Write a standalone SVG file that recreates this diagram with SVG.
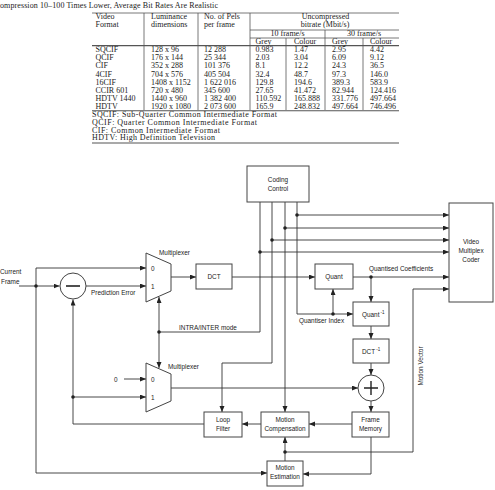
<svg xmlns="http://www.w3.org/2000/svg" width="495" height="490" viewBox="0 0 495 490">
<defs>
<style>
.t{font-family:"Liberation Serif","Times New Roman",serif;font-size:8px;fill:#222}
.s{font-family:"Liberation Sans",Arial,sans-serif;font-size:6.4px;fill:#222}
.c{text-anchor:middle}
.tl{stroke:#555;stroke-width:0.8;fill:none}
.tk{stroke:#555;stroke-width:1.1;fill:none}
.ln{fill:none;stroke:#333;stroke-width:0.9}
.ar{fill:none;stroke:#333;stroke-width:0.9;marker-end:url(#ah)}
.bx{fill:#fff;stroke:#444;stroke-width:1}
.dot{fill:#222}
</style>
<marker id="ah" markerUnits="userSpaceOnUse" markerWidth="7" markerHeight="6" refX="6" refY="2.5" orient="auto">
<path d="M0,0 L6,2.5 L0,5 z" fill="#222"/>
</marker>
</defs>
<rect width="495" height="490" fill="#fff"/>

<g id="table">
<text class="t" x="0" y="8" textLength="218" lengthAdjust="spacing">ompression 10–100 Times Lower, Average Bit Rates Are Realistic</text>
<path class="tl" d="M92,13H399M250,30H399M250,38H399"/>
<path class="tk" d="M92,45.6H399M92,110.8H399M92,143H399"/>
<path class="tl" d="M144,13V110M198,13V110M250,13V110M325,30V110M286,38V110M363,38V110"/>
<text class="t" x="95.5" y="18.8">Video</text>
<text class="t" x="95.5" y="26.8">Format</text>
<text class="t" x="151" y="18.8">Luminance</text>
<text class="t" x="151" y="26.8">dimensions</text>
<text class="t" x="204" y="18.8">No. of Pels</text>
<text class="t" x="204" y="26.8">per frame</text>
<text class="t c" x="325.5" y="19">Uncompressed</text>
<text class="t c" x="325" y="27.3">bitrate (Mbit/s)</text>
<text class="t c" x="287.5" y="36">10 frame/s</text>
<text class="t c" x="364" y="36">30 frame/s</text>
<text class="t" x="255.5" y="44">Grey</text>
<text class="t" x="294" y="44">Colour</text>
<text class="t" x="332" y="44">Grey</text>
<text class="t" x="370" y="44">Colour</text>
<g>
<text class="t" x="95.5" y="52.3">SQCIF</text><text class="t" x="151" y="52.3">128 x 96</text><text class="t" x="204" y="52.3">12 288</text><text class="t" x="255.5" y="52.3">0.983</text><text class="t" x="294" y="52.3">1.47</text><text class="t" x="332" y="52.3">2.95</text><text class="t" x="370" y="52.3">4.42</text>
<text class="t" x="95.5" y="60.4">QCIF</text><text class="t" x="151" y="60.4">176 x 144</text><text class="t" x="204" y="60.4">25 344</text><text class="t" x="255.5" y="60.4">2.03</text><text class="t" x="294" y="60.4">3.04</text><text class="t" x="332" y="60.4">6.09</text><text class="t" x="370" y="60.4">9.12</text>
<text class="t" x="95.5" y="68.4">CIF</text><text class="t" x="151" y="68.4">352 x 288</text><text class="t" x="204" y="68.4">101 376</text><text class="t" x="255.5" y="68.4">8.1</text><text class="t" x="294" y="68.4">12.2</text><text class="t" x="332" y="68.4">24.3</text><text class="t" x="370" y="68.4">36.5</text>
<text class="t" x="95.5" y="76.5">4CIF</text><text class="t" x="151" y="76.5">704 x 576</text><text class="t" x="204" y="76.5">405 504</text><text class="t" x="255.5" y="76.5">32.4</text><text class="t" x="294" y="76.5">48.7</text><text class="t" x="332" y="76.5">97.3</text><text class="t" x="370" y="76.5">146.0</text>
<text class="t" x="95.5" y="84.5">16CIF</text><text class="t" x="151" y="84.5">1408 x 1152</text><text class="t" x="204" y="84.5">1 622 016</text><text class="t" x="255.5" y="84.5">129.8</text><text class="t" x="294" y="84.5">194.6</text><text class="t" x="332" y="84.5">389.3</text><text class="t" x="370" y="84.5">583.9</text>
<text class="t" x="95.5" y="92.6">CCIR 601</text><text class="t" x="151" y="92.6">720 x 480</text><text class="t" x="204" y="92.6">345 600</text><text class="t" x="255.5" y="92.6">27.65</text><text class="t" x="294" y="92.6">41.472</text><text class="t" x="332" y="92.6">82.944</text><text class="t" x="370" y="92.6">124.416</text>
<text class="t" x="95.5" y="100.6">HDTV 1440</text><text class="t" x="151" y="100.6">1440 x 960</text><text class="t" x="204" y="100.6">1 382 400</text><text class="t" x="255.5" y="100.6">110.592</text><text class="t" x="294" y="100.6">165.888</text><text class="t" x="332" y="100.6">331.776</text><text class="t" x="370" y="100.6">497.664</text>
<text class="t" x="95.5" y="108.7">HDTV</text><text class="t" x="151" y="108.7">1920 x 1080</text><text class="t" x="204" y="108.7">2 073 600</text><text class="t" x="255.5" y="108.7">165.9</text><text class="t" x="294" y="108.7">248.832</text><text class="t" x="332" y="108.7">497.664</text><text class="t" x="370" y="108.7">746.496</text>
</g>
<text class="t" x="92" y="117" textLength="185" lengthAdjust="spacing">SQCIF: Sub-Quarter Common Intermediate Format</text>
<text class="t" x="92" y="124.9" textLength="165" lengthAdjust="spacing">QCIF: Quarter Common Intermediate Format</text>
<text class="t" x="92" y="132.8" textLength="128" lengthAdjust="spacing">CIF: Common Intermediate Format</text>
<text class="t" x="92" y="140.3" textLength="123" lengthAdjust="spacing">HDTV: High Definition Television</text>
</g>

<g id="connectors">
<path class="ar" d="M19,286H59.5"/>
<path class="ar" d="M36,286V268H146"/>
<path class="ar" d="M36,286V473H267"/>
<path class="ar" d="M86,286H146"/>
<path class="ar" d="M204,424H73V299.5"/>
<path class="ar" d="M73,397H146"/>
<path class="ar" d="M124,379H146"/>
<path class="ar" d="M171,277H196"/>
<path class="ar" d="M232,277H315"/>
<path class="ar" d="M297,202V314H353"/>
<path class="ar" d="M297,215H449"/>
<path class="ar" d="M285,202V412"/>
<path class="ar" d="M285,228H449"/>
<path class="ar" d="M272,202V363H222V412"/>
<path class="ar" d="M272,240H449"/>
<path class="ln" d="M260,202V332H159"/>
<path class="ar" d="M260,252H449"/>
<path class="ar" d="M159,332V297"/>
<path class="ar" d="M159,332V368"/>
<path class="ar" d="M353,277H449"/>
<path class="ar" d="M371,277V302"/>
<path class="ar" d="M333,314V289"/>
<path class="ar" d="M371,326V339"/>
<path class="ar" d="M371,363V375"/>
<path class="ar" d="M371,401V412"/>
<path class="ar" d="M171,388H358"/>
<path class="ar" d="M352,424H309"/>
<path class="ar" d="M261,424H242"/>
<path class="ar" d="M371,437V474H303"/>
<path class="ar" d="M285,461V437"/>
<path class="ar" d="M285,452H413V289H449"/>
<circle class="dot" cx="36" cy="286" r="1.8"/>
<circle class="dot" cx="73" cy="397" r="1.8"/>
<circle class="dot" cx="159" cy="332" r="1.8"/>
<circle class="dot" cx="297" cy="215" r="1.8"/>
<circle class="dot" cx="285" cy="228" r="1.8"/>
<circle class="dot" cx="272" cy="240" r="1.8"/>
<circle class="dot" cx="260" cy="252" r="1.8"/>
<circle class="dot" cx="371" cy="277" r="1.8"/>
<circle class="dot" cx="333" cy="314" r="1.8"/>
<circle class="dot" cx="285" cy="452" r="1.8"/>
<text class="s" x="0" y="274">Current</text>
<text class="s" x="1" y="283.5">Frame</text>
<text class="s" x="91" y="295">Prediction Error</text>
<text class="s" x="179" y="329.5">INTRA/INTER mode</text>
<text class="s" x="114" y="381.5">0</text>
<text class="s" x="369" y="271">Quantised Coefficients</text>
<text class="s" x="299" y="323">Quantiser Index</text>
<text class="s c" transform="translate(423,366) rotate(-90)">Motion Vector</text>
</g>

<g id="coding-control">
<rect class="bx" x="247" y="166" width="62" height="36"/>
<text class="s c" x="278" y="181.5">Coding</text>
<text class="s c" x="278" y="190.5">Control</text>
</g>
<g id="video-multiplex-coder">
<rect class="bx" x="449" y="203" width="44" height="99"/>
<text class="s c" x="471" y="243.5">Video</text>
<text class="s c" x="471" y="252.5">Multiplex</text>
<text class="s c" x="471" y="262">Coder</text>
</g>
<g id="subtractor">
<circle class="bx" cx="73" cy="286" r="13"/>
<path d="M66,286H80" stroke="#222" stroke-width="1.6"/>
</g>
<g id="mux1">
<path class="bx" d="M146,253L171,264V291L146,302z"/>
<text class="s" x="151" y="270.5">0</text>
<text class="s" x="151" y="288.5">1</text>
<text class="s" x="159" y="255">Multiplexer</text>
</g>
<g id="mux2">
<path class="bx" d="M146,363L171,374V401L146,412z"/>
<text class="s" x="151" y="381.5">0</text>
<text class="s" x="151" y="399.5">1</text>
<text class="s" x="168" y="369">Multiplexer</text>
</g>
<g id="dct">
<rect class="bx" x="196" y="264" width="36" height="25"/>
<text class="s c" x="214" y="279">DCT</text>
</g>
<g id="quant">
<rect class="bx" x="315" y="264" width="38" height="25"/>
<text class="s c" x="334" y="279">Quant</text>
</g>
<g id="quant-inv">
<rect class="bx" x="353" y="302" width="36" height="24"/>
<text class="s" x="362" y="316.5">Quant<tspan dx="1" dy="-3" font-size="4.5">-1</tspan></text>
</g>
<g id="dct-inv">
<rect class="bx" x="353" y="339" width="36" height="24"/>
<text class="s" x="362" y="353.5">DCT<tspan dx="1" dy="-3" font-size="4.5">-1</tspan></text>
</g>
<g id="adder">
<circle class="bx" cx="371" cy="388" r="13"/>
<path d="M364,388H378M371,381V395" stroke="#222" stroke-width="1.4"/>
</g>
<g id="loop-filter">
<rect class="bx" x="204" y="412" width="38" height="25"/>
<text class="s c" x="223" y="421.6">Loop</text>
<text class="s c" x="223" y="431">Filter</text>
</g>
<g id="motion-compensation">
<rect class="bx" x="261" y="412" width="48" height="25"/>
<text class="s c" x="285" y="421.6">Motion</text>
<text class="s c" x="285" y="431">Compensation</text>
</g>
<g id="frame-memory">
<rect class="bx" x="352" y="412" width="37" height="25"/>
<text class="s c" x="370.5" y="421.6">Frame</text>
<text class="s c" x="370.5" y="431">Memory</text>
</g>
<g id="motion-estimation">
<rect class="bx" x="267" y="461" width="36" height="25"/>
<text class="s c" x="285" y="470">Motion</text>
<text class="s c" x="285" y="479">Estimation</text>
</g>
</svg>
